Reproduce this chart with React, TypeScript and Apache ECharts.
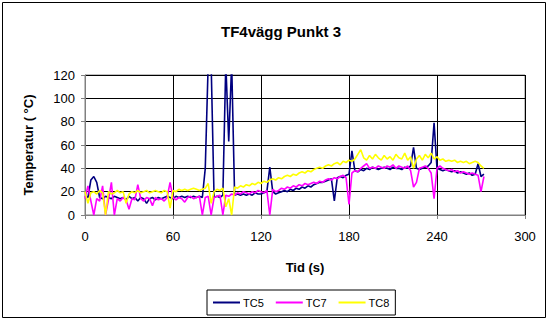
import React, { useEffect, useRef } from "react";
import * as echarts from "echarts";

const times: number[] = Array.from({ length: 137 }, (_, i) => i * 2);

const tc5: number[] = [
  16, 15, 30, 33, 28, 15, 14, 16, 15, 14, 16, 15, 14, 15, 13, 16, 14, 15, 12, 15,
  14, 10, 14, 15, 13, 15, 14, 15, 16, 15, 14, 16, 15, 16, 15, 16, 15, 16, 15, 16,
  15, 40, 130, 130, 15, 16, 15, 17, 130, 63, 130, 17, 18, 17, 18, 17, 18, 17, 19, 18,
  18, 19, 20, 41, 20, 18, 19, 20, 21, 20, 22, 21, 23, 22, 24, 23, 25, 24, 26, 27,
  28, 28, 29, 30, 31, 12, 32, 33, 32, 34, 35, 55, 38, 37, 39, 38, 40, 39, 41, 40,
  39, 40, 41, 40, 39, 41, 40, 40, 39, 41, 40, 42, 58, 40, 39, 40, 41, 42, 45, 79,
  40, 39, 38, 39, 38, 37, 38, 36, 37, 36, 35, 36, 34, 35, 44, 33, 35,
];

const tc7: number[] = [
  14, 25, 12, 0, 14, 12, 25, 0, 13, 28, 0, 14, 12, 15, 13, 5, 14, 13, 26, 14,
  12, 15, 14, 8, 15, 13, 14, 12, 15, 28, 15, 13, 15, 14, 11, 15, 16, 14, 15, 16,
  0, 15, 16, 0, 15, 16, 17, 0, 17, 16, 18, 17, 19, 18, 20, 19, 18, 20, 19, 21,
  20, 19, 21, 0, 22, 20, 21, 23, 22, 24, 23, 25, 24, 26, 25, 27, 26, 27, 28, 27,
  29, 28, 30, 31, 30, 32, 31, 33, 34, 32, 9, 36, 38, 37, 40, 42, 44, 40, 41, 40,
  42, 41, 40, 42, 41, 43, 40, 42, 41, 40, 42, 38, 24, 28, 40, 41, 42, 40, 36, 14,
  40, 42, 40, 39, 38, 39, 37, 38, 36, 37, 36, 35, 36, 35, 34, 20, 33,
];

const tc8: number[] = [
  20, 10, 19, 20, 18, 21, 19, 0, 20, 18, 19, 21, 19, 20, 10, 18, 20, 19, 21, 19,
  20, 21, 19, 20, 21, 20, 19, 21, 20, 6, 21, 20, 22, 21, 22, 21, 22, 23, 22, 21,
  22, 23, 27, 10, 20, 22, 21, 23, 7, 14, 0, 24, 23, 25, 24, 26, 25, 27, 26, 28,
  27, 29, 28, 30, 31, 30, 32, 31, 33, 34, 33, 35, 34, 36, 37, 36, 38, 37, 39, 40,
  41, 40, 42, 43, 42, 44, 45, 43, 46, 45, 47, 46, 48, 52, 56, 49, 47, 51, 48, 52,
  49, 47, 51, 48, 50, 47, 52, 49, 48, 53, 47, 50, 40, 48, 51, 47, 52, 49, 53, 48,
  50, 47, 48, 46, 47, 46, 47, 45, 46, 45, 46, 44, 45, 46, 45, 42, 40,
];

const seriesNames: string[] = ["TC5", "TC7", "TC8"];
const seriesColors: string[] = ["#000080", "#FF00FF", "#FFFF00"];
const xTicks: number[] = [0, 60, 120, 180, 240, 300];
const yTicks: number[] = [0, 20, 40, 60, 80, 100, 120];

const FONT = "Liberation Sans, Arial, sans-serif";

export default function App() {
  const ref = useRef<HTMLDivElement>(null);
  useEffect(() => {
    document.body.style.margin = "0";
    if (!ref.current) return;
    const chart = echarts.init(ref.current, undefined, { renderer: "svg" });
    const all = [tc5, tc7, tc8];
    chart.setOption({
      animation: false,
      backgroundColor: "#ffffff",
      textStyle: { fontFamily: FONT },
      title: {
        text: "TF4vägg Punkt 3",
        left: 276,
        top: 19,
        textAlign: "center",
        textStyle: { fontFamily: FONT, fontSize: 15, fontWeight: "bold", color: "#000" },
      },
      graphic: [
        {
          type: "rect",
          shape: { x: 2.5, y: 2.5, width: 543, height: 315 },
          style: { fill: "none", stroke: "#000", lineWidth: 1 },
          silent: true,
        },
      ],
      legend: {
        data: seriesNames,
        left: 207,
        top: 290,
        orient: "horizontal",
        borderColor: "#000",
        borderWidth: 1,
        padding: [7, 6, 7, 6],
        itemGap: 12,
        itemWidth: 27,
        itemHeight: 2,
        icon: "rect",
        textStyle: { fontFamily: FONT, fontSize: 11, color: "#000", padding: [0, 0, 0, -2] },
      },
      grid: {
        left: 85,
        top: 75,
        width: 440,
        height: 140,
        show: true,
        borderColor: "#808080",
        borderWidth: 1,
        backgroundColor: "#fff",
      },
      xAxis: {
        type: "value",
        min: xTicks[0],
        max: xTicks[xTicks.length - 1],
        interval: 60,
        name: "Tid (s)",
        nameLocation: "middle",
        nameGap: 46,
        nameTextStyle: { fontFamily: FONT, fontSize: 13, fontWeight: "bold", color: "#000" },
        axisLine: { show: true, lineStyle: { color: "#808080", width: 1 } },
        axisTick: { show: true, length: 4, lineStyle: { color: "#808080" } },
        axisLabel: { fontFamily: FONT, fontSize: 13, color: "#000", margin: 15 },
        splitLine: { show: true, lineStyle: { color: "#000", width: 1 } },
      },
      yAxis: {
        type: "value",
        min: yTicks[0],
        max: yTicks[yTicks.length - 1],
        interval: 20,
        name: "Temperatur ( °C)",
        nameLocation: "middle",
        nameGap: 50,
        nameRotate: 90,
        nameTextStyle: { fontFamily: FONT, fontSize: 13, fontWeight: "bold", color: "#000" },
        axisLine: { show: true, lineStyle: { color: "#808080", width: 1 } },
        axisTick: { show: true, length: 4, lineStyle: { color: "#808080" } },
        axisLabel: { fontFamily: FONT, fontSize: 13, color: "#000", margin: 10 },
        splitLine: { show: true, lineStyle: { color: "#000", width: 1 } },
      },
      series: seriesNames.map((name, si) => ({
        name,
        type: "line",
        data: times.map((t, i) => [t, all[si][i]]),
        showSymbol: false,
        symbol: "none",
        clip: true,
        lineStyle: { color: seriesColors[si], width: 1.6 },
        itemStyle: { color: seriesColors[si] },
      })),
    });
    return () => chart.dispose();
  }, []);
  return <div ref={ref} style={{ width: 549, height: 320 }} />;
}
